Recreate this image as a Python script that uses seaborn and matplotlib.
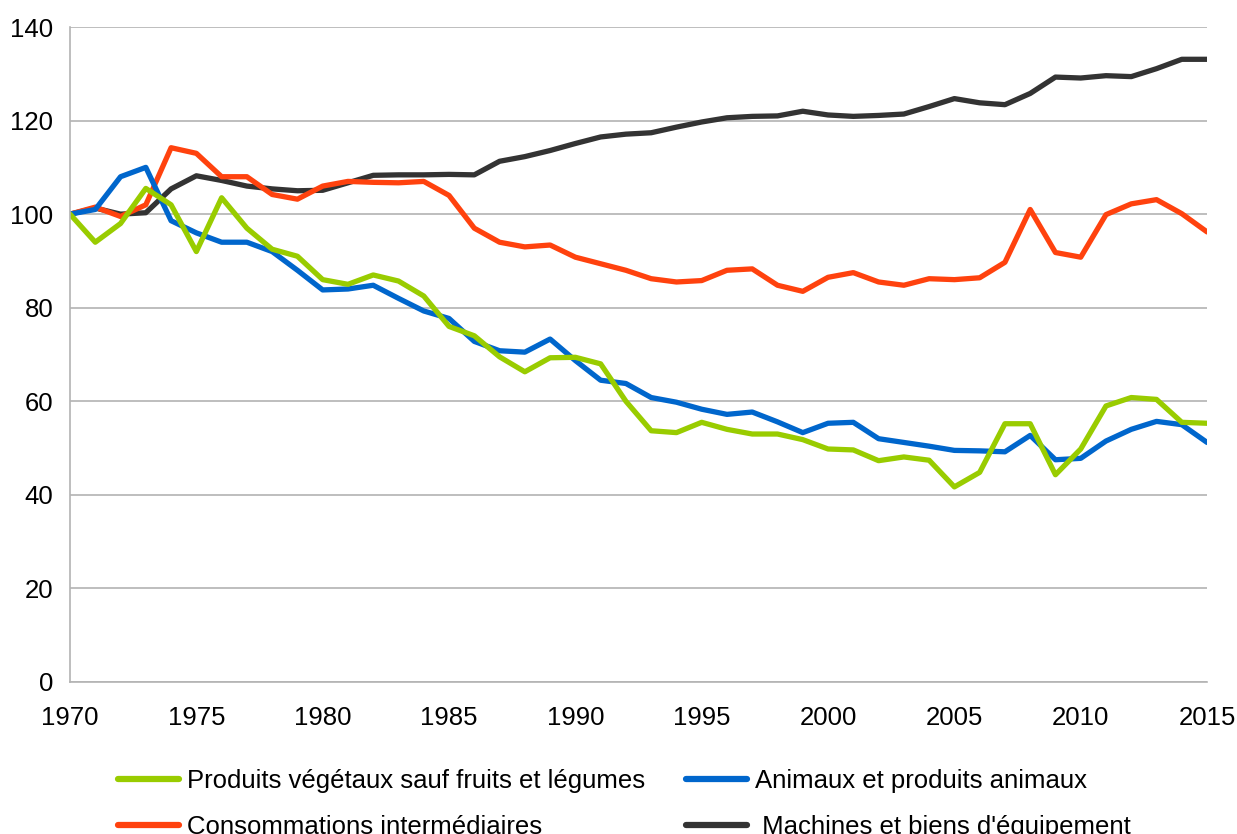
import matplotlib.pyplot as plt
import seaborn as sns
import pandas as pd
import numpy as np
from matplotlib.lines import Line2D

years = list(range(1970, 2016))

vegetaux = [100, 94, 98, 105.5, 102, 92, 103.5, 97, 92.5, 91,
            86, 85, 87, 85.7, 82.5, 76, 74, 69.5, 66.3, 69.3,
            69.4, 68, 60, 53.7, 53.3, 55.5, 54, 53, 53, 51.8,
            49.8, 49.6, 47.3, 48.1, 47.4, 41.7, 44.8, 55.2, 55.2, 44.3,
            49.8, 59, 60.8, 60.4, 55.5, 55.3]
animaux = [100, 101, 108, 110, 98.6, 96, 94, 94, 92, 88,
           83.8, 84, 84.8, 82, 79.3, 77.7, 72.8, 70.8, 70.5, 73.3,
           68.7, 64.5, 63.8, 60.8, 59.8, 58.3, 57.2, 57.7, 55.6, 53.3,
           55.3, 55.5, 52, 51.2, 50.4, 49.5, 49.4, 49.2, 52.7, 47.5,
           47.8, 51.5, 54, 55.7, 55, 51.2]
consommations = [100, 101.5, 99.5, 102, 114.2, 113, 108, 108, 104.2, 103.2,
                 106, 107, 106.8, 106.7, 107, 104, 97, 94, 93, 93.4,
                 90.8, 89.4, 88, 86.2, 85.5, 85.8, 88, 88.3, 84.8, 83.5,
                 86.5, 87.5, 85.5, 84.8, 86.2, 86, 86.4, 89.7, 101, 91.8,
                 90.8, 99.9, 102.2, 103.1, 100.1, 96.2]
machines = [100, 101.3, 100, 100.3, 105.4, 108.2, 107.2, 106, 105.4, 105,
            105.1, 106.7, 108.3, 108.4, 108.4, 108.5, 108.4, 111.3, 112.3, 113.6,
            115.1, 116.5, 117.1, 117.4, 118.6, 119.7, 120.6, 120.9, 121, 122,
            121.2, 120.9, 121.1, 121.4, 123, 124.7, 123.8, 123.4, 125.8, 129.3,
            129.1, 129.6, 129.4, 131.1, 133.1, 133.1]

series_names = ["Produits végétaux sauf fruits et légumes",
                "Animaux et produits animaux",
                "Consommations intermédiaires",
                " Machines et biens d'équipement"]
colors = ["#99cc00", "#0066cc", "#ff420e", "#333333"]

df = pd.DataFrame({
    "year": years * 4,
    "value": vegetaux + animaux + consommations + machines,
    "serie": np.repeat(series_names, len(years)),
})

sns.set_style("white")
plt.rcParams['font.family'] = ['Liberation Sans', 'DejaVu Sans']
plt.rcParams['text.color'] = 'black'
plt.rcParams['xtick.labelcolor'] = 'black'
plt.rcParams['ytick.labelcolor'] = 'black'

fig = plt.figure(figsize=(12.37, 8.34), dpi=100)
ax = fig.add_axes([0.0566, 0.1823, 0.9192, 0.7853])

# machines drawn first, végétaux last (on top)
sns.lineplot(data=df, x="year", y="value", hue="serie",
             hue_order=[series_names[3], series_names[2], series_names[1], series_names[0]],
             palette=dict(zip(series_names, colors)), linewidth=3.8,
             legend=False, ax=ax)

ax.set_xlim(1970, 2015)
ax.set_ylim(0, 140)
ax.set_xticks(range(1970, 2016, 5))
ax.set_yticks(range(0, 141, 20))
ax.set_xlabel("")
ax.set_ylabel("")
ax.grid(True, axis='y', color='#b3b3b3', linewidth=1.2)
ax.set_axisbelow(True)
for side in ['top', 'right']:
    ax.spines[side].set_visible(False)
for side in ['left', 'bottom']:
    ax.spines[side].set_color('#b3b3b3')
    ax.spines[side].set_linewidth(1.2)
ax.tick_params(axis='both', labelsize=18.5, length=8, color='#b3b3b3', width=1.2,
               direction='out', labelcolor='black')
ax.tick_params(axis='y', pad=4)
ax.tick_params(axis='x', pad=9)

handles = [Line2D([], [], color=colors[i], linewidth=4.5) for i in [0, 2, 1, 3]]
labels = [series_names[i] for i in [0, 2, 1, 3]]
fig.legend(handles, labels, ncol=2, loc='upper left', bbox_to_anchor=(0.0954, 0.0780),
           frameon=False, fontsize=18.5, handlelength=2.37, handletextpad=0.31,
           columnspacing=1.6, labelspacing=0.85, borderaxespad=0, borderpad=0,
           labelcolor='black')

fig.savefig("out.png", dpi=100)
